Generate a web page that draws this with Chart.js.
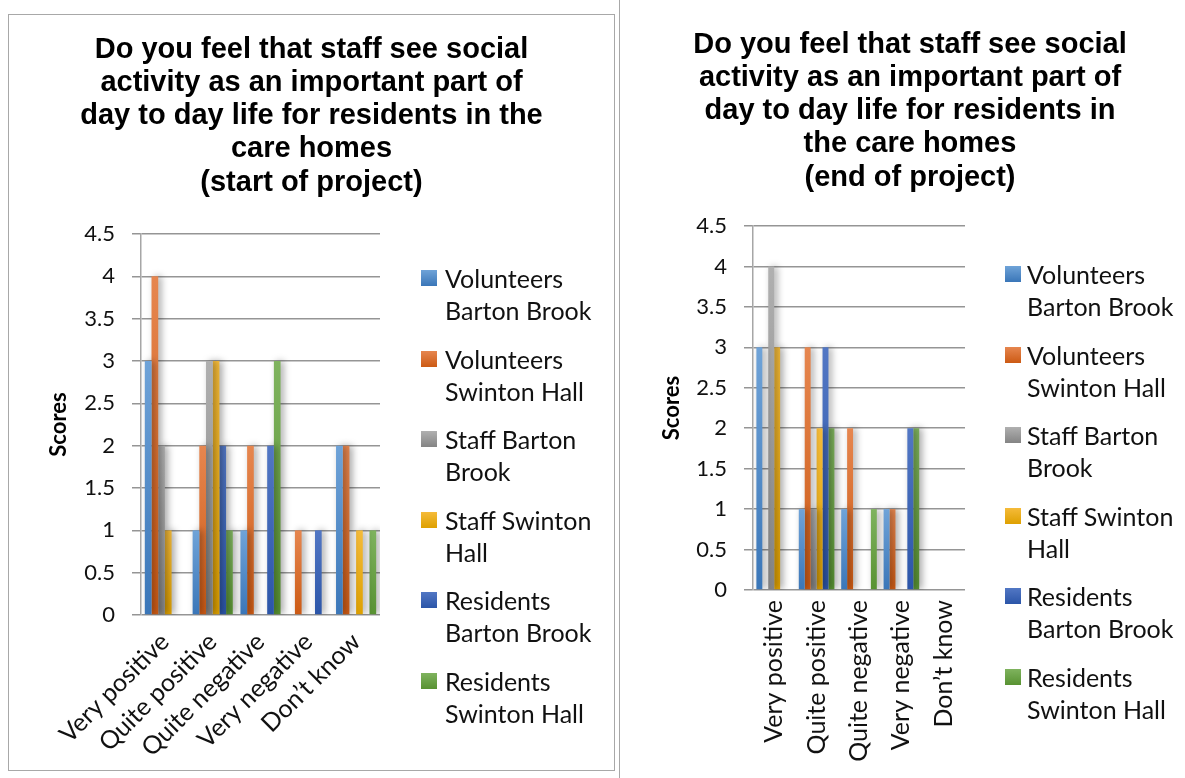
<!DOCTYPE html>
<html>
<head>
<meta charset="utf-8">
<script src="https://cdn.jsdelivr.net/npm/chart.js@4.4.0/dist/chart.umd.min.js"></script>
<style>
  html, body { margin: 0; padding: 0; background: #fff; }
  body { width: 1185px; height: 778px; position: relative; overflow: hidden; font-family: Lato, sans-serif; }
  .frame-left { position: absolute; left: 8px; top: 14px; width: 607px; height: 757px; border: 1.5px solid #a8a8a8; box-sizing: border-box; }
  .divider { position: absolute; left: 619px; top: 0; width: 0; height: 778px; border-left: 1.5px solid #a8a8a8; }
  .box { position: absolute; }
  .legend { position: absolute; font-size: 25px; line-height: 32px; color: #111; }
  .legend .item { position: absolute; left: 0; white-space: nowrap; }
  .legend .swatch { position: absolute; left: 0; top: 0; width: 16px; height: 16px; }
  .legend .text { position: absolute; top: -8px; }
</style>
</head>
<body>
<div class="frame-left"></div>
<div class="divider"></div>
<div class="box" style="left:9px; top:15px; width:605px; height:755px;"><canvas id="startChart"></canvas></div>
<div class="box" style="left:622px; top:0px; width:576px; height:778px;"><canvas id="endChart"></canvas></div>
<div class="legend" id="startLegend" style="left:421px; top:270px;"></div>
<div class="legend" id="endLegend" style="left:1005px; top:266px;"></div>

<script>
// categories and series
const categories = ['Very positive', 'Quite positive', 'Quite negative', 'Very negative', 'Don\u2019t know'];
const seriesNames = [
  ['Volunteers', 'Barton Brook'],
  ['Volunteers', 'Swinton Hall'],
  ['Staff Barton', 'Brook'],
  ['Staff Swinton', 'Hall'],
  ['Residents', 'Barton Brook'],
  ['Residents', 'Swinton Hall']
];
const yTickLabels = ['0', '0.5', '1', '1.5', '2', '2.5', '3', '3.5', '4', '4.5'];

// start of project
const startVolunteersBarton = [3, 1, 1, 0, 2];
const startVolunteersSwinton = [4, 2, 2, 1, 2];
const startStaffBarton = [2, 3, 0, 0, 0];
const startStaffSwinton = [1, 3, 0, 0, 1];
const startResidentsBarton = [0, 2, 2, 1, 0];
const startResidentsSwinton = [0, 1, 3, 0, 1];

// end of project
const endVolunteersBarton = [3, 1, 1, 1, 0];
const endVolunteersSwinton = [0, 3, 2, 1, 0];
const endStaffBarton = [4, 1, 0, 0, 0];
const endStaffSwinton = [3, 2, 0, 0, 0];
const endResidentsBarton = [0, 3, 0, 2, 0];
const endResidentsSwinton = [0, 2, 1, 2, 0];

// office style colours, light at top -> dark at bottom
const barColors = [
  ['#6fa3d8', '#3a76b8'],
  ['#e6864f', '#cc5a14'],
  ['#b0b0b0', '#848484'],
  ['#f5bb3a', '#dea000'],
  ['#5277c4', '#2b55a8'],
  ['#7fb35e', '#589232']
];

const tickFont = { family: 'Lato', size: 22 };
const catFont = { family: 'Lato', size: 25 };

// vertical gradient for each bar
function barFill(index) {
  return function(context) {
    const chart = context.chart;
    const stops = barColors[index];
    if (!chart.chartArea || context.raw == null || !chart.scales.y) return stops[0];
    const y = chart.scales.y;
    const g = chart.ctx.createLinearGradient(0, y.getPixelForValue(context.raw), 0, y.getPixelForValue(0));
    g.addColorStop(0, stops[0]);
    g.addColorStop(1, stops[1]);
    return g;
  };
}

// soft shadow to the right of the bars
const barShadow = {
  id: 'barShadow',
  beforeDatasetsDraw(chart) {
    const ctx = chart.ctx;
    ctx.save();
    ctx.shadowColor = 'rgba(0, 0, 0, 0.35)';
    ctx.shadowBlur = 7;
    ctx.shadowOffsetX = 3;
    ctx.shadowOffsetY = 0;
  },
  afterDatasetsDraw(chart) {
    chart.ctx.restore();
  }
};

function buildLegend(el) {
  seriesNames.forEach((lines, i) => {
    const item = document.createElement('div');
    item.className = 'item';
    item.style.top = (i * 80.6) + 'px';
    const sw = document.createElement('div');
    sw.className = 'swatch';
    sw.style.background = 'linear-gradient(' + barColors[i][0] + ',' + barColors[i][1] + ')';
    const txt = document.createElement('div');
    txt.className = 'text';
    txt.style.left = (el.id === 'startLegend' ? 24 : 22) + 'px';
    txt.innerHTML = lines.join('<br>');
    item.appendChild(sw);
    item.appendChild(txt);
    el.appendChild(item);
  });
}

/**
 * Create one grouped bar panel
 * area: wanted chart area inside the canvas
 */
function createPanel(canvas, series, titleLines, area, rotation, titlePadTop) {
  const ctx = canvas.getContext('2d');
  const w = canvas.parentNode.clientWidth;
  const h = canvas.parentNode.clientHeight;
  const lineH = 33.25;

  return new Chart(ctx, {
    type: 'bar',
    data: {
      labels: categories,
      datasets: series.map((values, i) => ({
        label: seriesNames[i].join(' '),
        data: values,
        backgroundColor: barFill(i),
        borderWidth: 0,
        categoryPercentage: 0.84,
        barPercentage: 1
      }))
    },
    options: {
      responsive: true,
      maintainAspectRatio: false,
      animation: false,
      layout: { padding: 0 },
      plugins: {
        legend: { display: false },
        tooltip: { enabled: false },
        title: {
          display: true,
          text: titleLines,
          color: '#000',
          font: { family: 'Liberation Sans', size: 29, weight: 'bold', lineHeight: lineH / 29 },
          padding: { top: titlePadTop, bottom: area.top - titlePadTop - titleLines.length * lineH }
        }
      },
      scales: {
        x: {
          grid: { display: false, drawTicks: false },
          border: { display: false },
          ticks: {
            color: '#111',
            font: catFont,
            minRotation: rotation,
            maxRotation: rotation,
            padding: rotation === 90 ? 10 : 12,
            autoSkip: false
          },
          afterFit: scale => { scale.height = h - area.bottom; }
        },
        y: {
          min: 0,
          max: 4.5,
          grid: { color: '#959595', lineWidth: 1.5, tickLength: 9 },
          border: { display: true, color: '#a6a6a6', width: 1.5 },
          ticks: {
            stepSize: 0.5,
            color: '#111',
            font: tickFont,
            padding: 17,
            callback: (v, i) => yTickLabels[i]
          },
          title: {
            display: true,
            text: 'Scores',
            color: '#000',
            font: { family: 'Lato', size: 22, weight: 'bold' },
            padding: { top: 37 }
          },
          afterFit: scale => { scale.width = area.left; }
        },
        // spacer so the plot stops where the legend begins
        spacer: {
          type: 'linear',
          position: 'right',
          display: true,
          grid: { display: false, drawTicks: false },
          border: { display: false },
          ticks: { display: false },
          afterFit: scale => { scale.width = w - area.right; }
        }
      }
    },
    plugins: [barShadow]
  });
}

createPanel(
  document.getElementById('startChart'),
  [startVolunteersBarton, startVolunteersSwinton, startStaffBarton, startStaffSwinton, startResidentsBarton, startResidentsSwinton],
  ['Do you feel that staff see social', 'activity as an important part of', 'day to day life for residents in the', 'care homes', '(start of project)'],
  { left: 132, right: 371, top: 219, bottom: 600 },
  45,
  18
);

createPanel(
  document.getElementById('endChart'),
  [endVolunteersBarton, endVolunteersSwinton, endStaffBarton, endStaffSwinton, endResidentsBarton, endResidentsSwinton],
  ['Do you feel that staff see social', 'activity as an important part of', 'day to day life for residents in', 'the care homes', '(end of project)'],
  { left: 131, right: 343, top: 226, bottom: 590 },
  90,
  28
);

buildLegend(document.getElementById('startLegend'));
buildLegend(document.getElementById('endLegend'));
</script>
</body>
</html>
